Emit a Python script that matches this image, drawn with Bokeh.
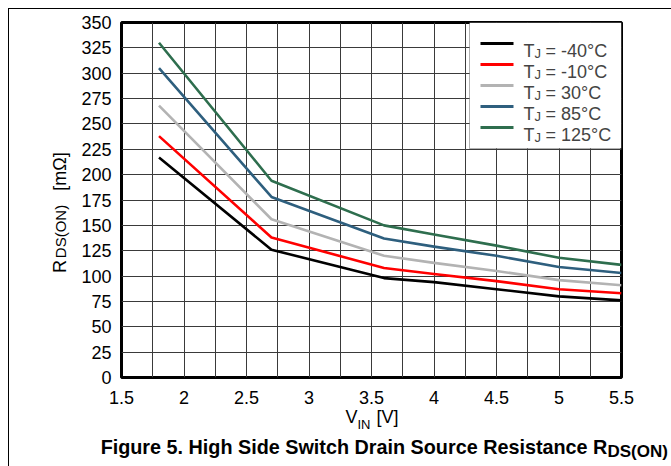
import numpy as np
from bokeh.plotting import figure
from bokeh.models import (Label, FixedTicker, Range1d, CustomJSTickFormatter, LinearAxis,
                          BoxAnnotation, Arrow, Title)
from bokeh.embed import file_html
from bokeh.resources import INLINE

# ---------------- data ----------------
vin = [1.8, 2.7, 3.6, 4.0, 4.5, 5.0, 5.5]
r_m40 = [217, 126, 98, 94, 87, 80, 76]
r_m10 = [238, 138, 108, 102, 95, 87, 83]
r_30 = [268, 156, 120, 113, 105, 96, 91]
r_85 = [305, 178, 137, 129, 120, 109, 103]
r_125 = [330, 194, 150, 141, 130, 118, 111]
series_temps = ["-40°C", "-10°C", "30°C", "85°C", "125°C"]
series_colors = ["#000000", "#ff0000", "#b3b3b3", "#2e5f7e", "#2e6e4e"]
x_ticks = [1.5, 2, 2.5, 3, 3.5, 4, 4.5, 5, 5.5]
x_grid = [1.5, 1.75, 2, 2.25, 2.5, 2.75, 3, 3.25, 3.5, 3.75, 4, 4.25, 4.5, 4.75, 5, 5.25, 5.5]
y_ticks = [0, 25, 50, 75, 100, 125, 150, 175, 200, 225, 250, 275, 300, 325, 350]

y_label_main = ["R", "[mΩ]"]
y_label_sub = ["DS(ON)"]
x_label_main = ["V", "[V]"]
x_label_sub = ["IN"]
caption_main = ["Figure 5. High Side Switch Drain Source Resistance R"]
caption_sub = "DS(ON)"

FONT = "Liberation Sans"

p = figure(frame_width=500, frame_height=355, x_range=Range1d(1.5, 5.5), y_range=Range1d(0, 350),
           output_backend="svg", toolbar_location=None,
           min_border_left=121, min_border_right=50, min_border_top=22, min_border_bottom=89)
p.background_fill_color = "white"
p.border_fill_color = None
p.outline_line_color = "black"
p.outline_line_width = 3
p.styles = {
    "background-color": "white",
    "background-image": "linear-gradient(#000,#000), linear-gradient(#000,#000)",
    "background-size": "calc(100% - 8px) 1px, 1px calc(100% - 8px)",
    "background-position": "8px 8px, 8px 8px",
    "background-repeat": "no-repeat",
}

def style_axis(ax, size, standoff, bold=False):
    ax.axis_line_color = None
    ax.major_tick_line_color = None
    ax.minor_tick_line_color = None
    ax.major_tick_out = 0
    ax.major_tick_in = 0
    ax.minor_tick_out = 0
    ax.minor_tick_in = 0
    ax.major_label_text_font = FONT
    ax.major_label_text_font_size = size
    ax.major_label_text_color = "black"
    ax.major_label_standoff = standoff
    if bold:
        ax.major_label_text_font_style = "bold"

xa = p.xaxis[0]
ya = p.yaxis[0]
style_axis(xa, "18px", 13)
style_axis(ya, "18px", 10)
xa.ticker = FixedTicker(ticks=x_ticks)
ya.ticker = FixedTicker(ticks=y_ticks)
xa.formatter = CustomJSTickFormatter(code="return String(tick);")
ya.formatter = CustomJSTickFormatter(code="return String(tick);")

p.xgrid.ticker = FixedTicker(ticks=x_grid)
p.ygrid.ticker = FixedTicker(ticks=y_ticks)
for g in (p.xgrid[0], p.ygrid[0]):
    g.grid_line_color = "#3a3a3a"
    g.grid_line_width = 1

all_series = [r_m40, r_m10, r_30, r_85, r_125]
for ys, c in zip(all_series, series_colors):
    p.line(vin, ys, line_color=c, line_width=2.6, line_join="round")

# pixel (page) -> data helpers; frame occupies x 121..621, y 22..377
def X(px):
    return 1.5 + (px - 121) * 4.0 / 500.0

def Y(py):
    return (377 - py) * 350.0 / 355.0

# ---- texts outside the frame: single-tick axes ----
def text_axis(side, positions, labels, size, standoff, bold=False, orient=None):
    ax = LinearAxis()
    style_axis(ax, size, standoff, bold)
    ax.ticker = FixedTicker(ticks=positions, minor_ticks=[])
    ax.formatter = CustomJSTickFormatter(args=dict(labels=labels), code="return labels[index];")
    if orient is not None:
        ax.major_label_orientation = orient
    p.add_layout(ax, side)
    return ax

# y axis title: R_DS(ON) [mΩ]
text_axis("left", [Y(266), Y(171)], y_label_main, "18px", 9, orient="parallel")
text_axis("left", [Y(231)], y_label_sub, "15px", -22, orient="parallel")
# x axis title: V_IN [V]
text_axis("below", [X(351), X(387)], x_label_main, "18px", 0)
text_axis("below", [X(363.5)], x_label_sub, "13px", -13)
# caption: subscript first (as a title), then the main text pulled back up
p.add_layout(Title(text=caption_sub, align="left", offset=607 - 121, standoff=11,
                   text_font=FONT, text_font_size="17px", text_font_style="bold",
                   text_color="black"), "below")
text_axis("below", [X(353.5)], caption_main, "19.8px", -31, bold=True)

# ---- legend (drawn on top of the frame outline) ----
p.add_layout(BoxAnnotation(left=X(469), right=X(621), top=Y(22), bottom=Y(148),
                           fill_color="white", fill_alpha=1, line_color="black",
                           line_width=1, level="overlay"))
item_py = [43, 64, 85, 106, 127]
for py, c, t in zip(item_py, series_colors, series_temps):
    p.add_layout(Arrow(end=None, start=None, x_start=X(480), x_end=X(513), y_start=Y(py), y_end=Y(py),
                       line_color=c, line_width=3, level="overlay"))
    p.add_layout(Label(x=X(523), y=Y(py + 7), text="T", text_font=FONT,
                       text_font_size="18px", text_baseline="alphabetic", level="overlay"))
    p.add_layout(Label(x=X(534), y=Y(py + 10), text="J", text_font=FONT,
                       text_font_size="13px", text_baseline="alphabetic", level="overlay"))
    p.add_layout(Label(x=X(545), y=Y(py + 7), text="= " + t, text_font=FONT,
                       text_font_size="18px", text_baseline="alphabetic", level="overlay"))

open("out.html", "w").write(file_html(p, INLINE))
